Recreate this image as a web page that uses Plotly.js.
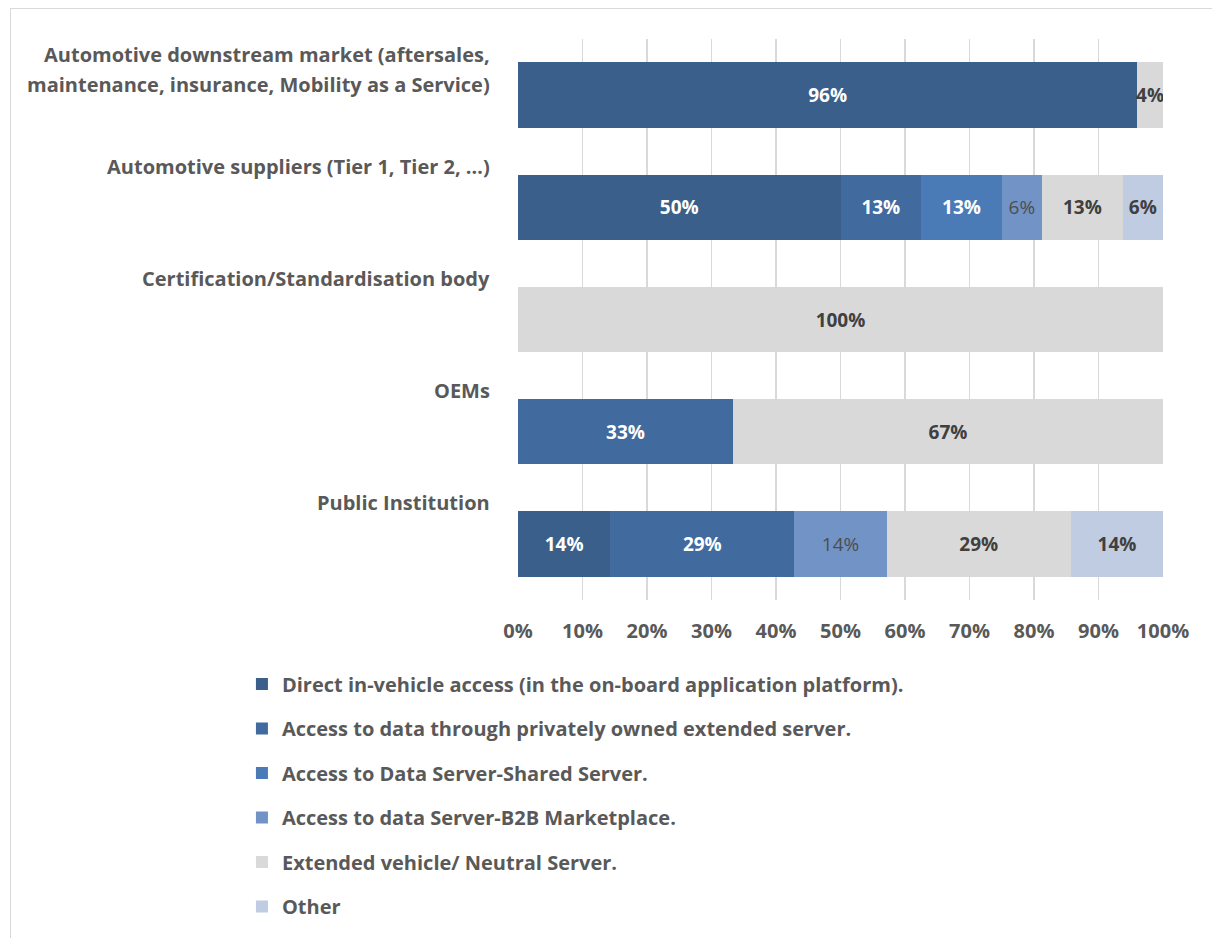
<!DOCTYPE html>
<html>
<head>
<meta charset="utf-8">
<script src="https://cdn.plot.ly/plotly-3.0.1.min.js"></script>
<style>
  html, body { margin: 0; padding: 0; background: #fff; }
  #wrap { position: relative; width: 1212px; height: 938px; overflow: hidden; }
  #chart { position: absolute; left: 0; top: 0; width: 1212px; height: 938px; }
  #frame { position: absolute; left: 10px; top: 8px; width: 1300px; height: 1000px;
           border-left: 1px solid #d9d9d9; border-top: 1px solid #d9d9d9; pointer-events: none; }
</style>
</head>
<body>
<div id="wrap"><div id="chart"></div><div id="frame"></div></div>
<script>
// Categories (top to bottom)
const categories = [
  "Automotive downstream market (aftersales,<br>maintenance, insurance, Mobility as a Service)",
  "Automotive suppliers (Tier 1, Tier 2, …)",
  "Certification/Standardisation body",
  "OEMs",
  "Public Institution"
];

// Series names
const seriesNames = [
  "Direct in-vehicle access (in the on-board application platform).",
  "Access to data through privately owned extended server.",
  "Access to Data Server-Shared Server.",
  "Access to data Server-B2B Marketplace.",
  "Extended vehicle/ Neutral Server.",
  "Other"
];

// Shares (%) per category, in category order
const directInVehicle  = [96, 50, 0, 0, 14.29];
const privateServer    = [0, 12.5, 0, 33.33, 28.57];
const sharedServer     = [0, 12.5, 0, 0, 0];
const b2bMarketplace   = [0, 6.25, 0, 0, 14.29];
const neutralServer    = [4, 12.5, 100, 66.67, 28.57];
const otherAccess      = [0, 6.25, 0, 0, 14.29];

const xTickVals = [0, 10, 20, 30, 40, 50, 60, 70, 80, 90, 100];
const xTickText = ["0%", "10%", "20%", "30%", "40%", "50%", "60%", "70%", "80%", "90%", "100%"];

const seriesValues = [directInVehicle, privateServer, sharedServer, b2bMarketplace, neutralServer, otherAccess];
const colors = ["#3A5F8B", "#416B9E", "#4A7BB7", "#7293C5", "#D9D9D9", "#C0CCE1"];
const textColors = ["#FFFFFF", "#FFFFFF", "#FFFFFF", "#4D4D4D", "#404040", "#404040"];
const textWeights = ["bold", "bold", "bold", "normal", "bold", "bold"];

const FONT = "'Open Sans', sans-serif";
const yIdx = categories.map((c, i) => i);

const traces = seriesValues.map((vals, s) => ({
  type: "bar",
  orientation: "h",
  name: seriesNames[s],
  legendgroup: "g" + s,
  y: yIdx,
  x: vals.map(v => v === 0 ? null : v),
  marker: { color: colors[s], line: { width: 0 } },
  text: vals.map(v => v === 0 ? "" : Math.round(v) + "%"),
  texttemplate: "%{text}",
  textposition: "inside",
  insidetextanchor: "middle",
  textangle: 0,
  constraintext: "none",
  textfont: { family: FONT, size: 19, color: textColors[s], weight: textWeights[s] },
  hoverinfo: "name+x"
}));

const annotations = [];
categories.forEach((c, i) => {
  const lines = c.split("<br>");
  lines.forEach((ln, k) => {
    annotations.push({
      xref: "paper", yref: "y", x: 0, y: i - 0.5,
      xanchor: "right", yanchor: "middle",
      xshift: -26, yshift: -15 - 30 * k,
      text: ln, showarrow: false,
      font: { family: FONT, size: 20, color: "#595959", weight: "bold" }
    });
  });
});

const layout = {
  width: 1212, height: 938,
  margin: { l: 518, r: 49, t: 39, b: 334, pad: 0 },
  paper_bgcolor: "#ffffff", plot_bgcolor: "#ffffff",
  barmode: "stack",
  bargap: 0.416,
  showlegend: true,
  legend: {
    x: -0.428, xanchor: "left", y: -0.115, yanchor: "top",
    traceorder: "grouped", tracegroupgap: 15.5,
    font: { family: FONT, size: 20, color: "#595959", weight: "bold" },
    bgcolor: "rgba(0,0,0,0)"
  },
  xaxis: {
    range: [0, 100], tickvals: xTickVals, ticktext: xTickText,
    showgrid: true, gridcolor: "#D9D9D9", gridwidth: 1.5,
    zeroline: false, showline: false, ticks: "",
    ticklabelstandoff: 17,
    tickfont: { family: FONT, size: 20, color: "#595959", weight: "bold" },
    fixedrange: true
  },
  yaxis: {
    range: [4.5, -0.5], showticklabels: false, showgrid: false,
    zeroline: false, showline: false, ticks: "", fixedrange: true
  },
  annotations: annotations
};

Plotly.newPlot("chart", traces, layout, { displayModeBar: false, staticPlot: true });
</script>
</body>
</html>
